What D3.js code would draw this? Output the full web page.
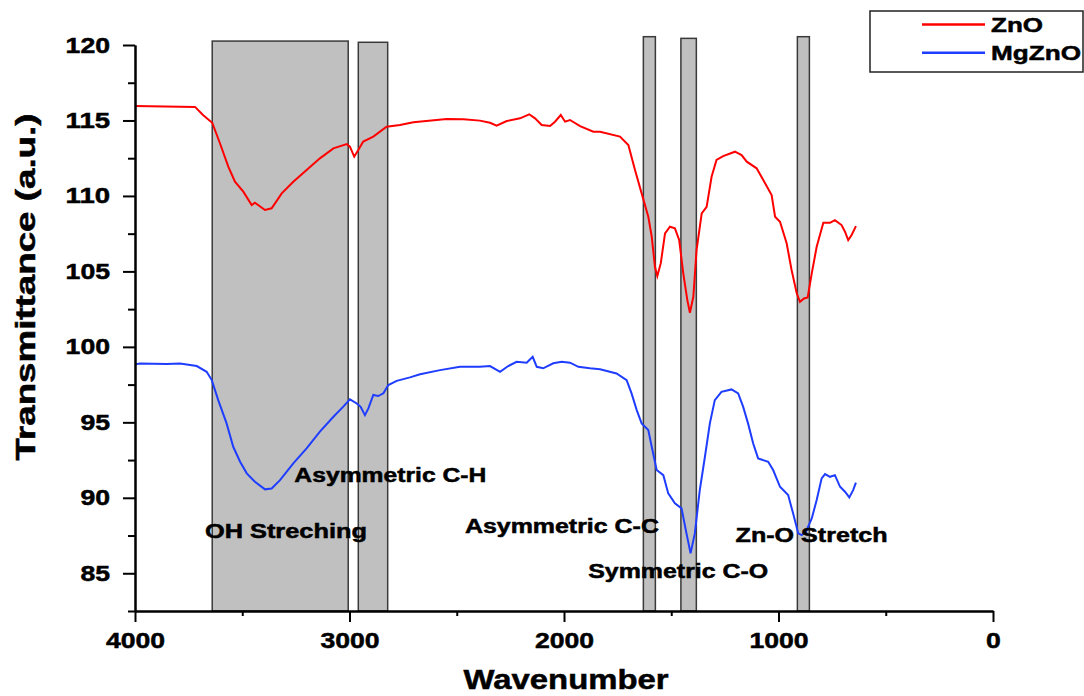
<!DOCTYPE html>
<html>
<head>
<meta charset="utf-8">
<script src="https://cdn.jsdelivr.net/npm/d3@7"></script>
<style>
  body { margin: 0; background: #fff; }
  text { font-family: "Liberation Sans", Arial, sans-serif; font-weight: bold; fill: #000; stroke: #000; stroke-width: 0.5px; }
</style>
</head>
<body>
<svg id="chart"></svg>
<script>
// ZnO spectrum (wavenumber, transmittance)
const znoWn = [4000,3720,3683,3640,3604,3565,3534,3495,3456,3441,3394,3363,3316,3262,3200,3138,3075,3013,2998,2978,2959,2936,2889,2827,2765,2702,2547,2469,2392,2345,2314,2267,2205,2162,2135,2104,2065,2042,2015,1995,1972,1925,1863,1832,1739,1700,1669,1638,1607,1591,1576,1565,1549,1529,1506,1483,1463,1444,1425,1413,1397,1382,1358,1335,1312,1289,1258,1203,1172,1148,1102,1071,1032,1016,993,962,939,915,900,881,864,845,822,791,760,737,706,690,675,659,639];
const znoT  = [115.96,115.9,115.36,114.85,113.49,111.94,110.94,110.28,109.4,109.55,109.07,109.18,110.17,110.94,111.72,112.49,113.15,113.44,113.26,112.6,113.04,113.6,113.93,114.59,114.7,114.88,115.1,115.08,114.99,114.85,114.66,114.96,115.14,115.41,115.14,114.7,114.63,114.92,115.36,114.92,115.03,114.63,114.25,114.25,113.93,113.37,111.72,110.17,108.62,107.3,105.31,104.69,105.53,107.52,107.96,107.85,107.08,104.87,103.1,102.26,103.32,106.41,108.85,109.28,111.27,112.38,112.64,112.93,112.71,112.27,111.83,111.05,110.06,108.62,108.29,106.86,105.09,103.55,102.99,103.21,103.28,104.87,106.63,108.22,108.22,108.4,108.07,107.63,107.08,107.41,108.0];

// MgZnO spectrum
const mgWn = [4000,3977,3852,3790,3712,3666,3642,3612,3573,3542,3510,3479,3441,3394,3363,3324,3262,3200,3138,3075,3029,2998,2966,2948,2928,2912,2889,2866,2842,2819,2780,2718,2671,2578,2485,2392,2345,2298,2260,2221,2174,2146,2127,2097,2050,2011,1972,1933,1879,1832,1755,1708,1685,1661,1638,1607,1591,1568,1537,1514,1483,1452,1429,1410,1390,1367,1343,1320,1297,1266,1219,1188,1165,1142,1118,1095,1048,1025,993,955,932,908,892,869,845,822,799,783,760,737,713,690,670,652,639];
const mgT  = [98.84,98.9,98.86,98.9,98.73,98.35,97.8,96.47,94.93,93.38,92.39,91.62,91.06,90.56,90.62,91.17,92.28,93.27,94.38,95.37,96.04,96.52,96.25,96.03,95.48,95.92,96.81,96.74,96.92,97.47,97.75,97.98,98.18,98.46,98.68,98.68,98.73,98.35,98.73,99.01,98.95,99.34,98.68,98.58,98.91,99.01,98.95,98.68,98.58,98.51,98.24,97.8,96.92,95.81,94.93,94.49,93.38,91.84,91.5,90.29,89.63,89.3,87.64,86.32,87.64,90.51,92.72,94.93,96.47,97.02,97.18,96.92,96.04,94.93,93.6,92.61,92.39,91.84,90.73,90.18,88.97,87.64,87.53,87.86,88.63,89.85,91.29,91.57,91.39,91.5,90.73,90.4,90.03,90.51,91.0];

// shaded bands (wavenumber range, top value)
const bandHigh = [3640, 2959, 1630, 1455, 912];
const bandLow  = [3006, 2822, 1574, 1383, 856];
const bandTop  = [120.26, 120.18, 120.55, 120.44, 120.55];

// band labels
const noteText = ["Asymmetric C-H", "OH Streching", "Asymmetric C-C", "Symmetric C-O", "Zn-O Stretch"];
const noteWn   = [3257, 3674, 2462, 1887, 1200];
const noteT    = [91.02, 87.34, 87.7, 84.7, 87.07];

const seriesNames = ["ZnO", "MgZnO"];
const xMajor = [4000, 3000, 2000, 1000, 0];
const xMinor = [3500, 2500, 1500, 500];
const yMajor = [85, 90, 95, 100, 105, 110, 115, 120];
const yMinor = [82.5, 87.5, 92.5, 97.5, 102.5, 107.5, 112.5, 117.5];

const width = 1084, height = 696;
const svg = d3.select('#chart').attr('width', width).attr('height', height);

const xscale = d3.scaleLinear().domain([4000, 0]).range([135, 993]);
const yscale = d3.scaleLinear().domain([82.5, 120]).range([611, 45]);

// stretch text horizontally, the original font is wide
function fit(sel, w) {
    sel.attr('textLength', w).attr('lengthAdjust', 'spacingAndGlyphs');
}

// bands
svg.append('g').selectAll('rect')
    .data(bandHigh)
    .join('rect')
    .attr('x', (d, i) => xscale(d))
    .attr('y', (d, i) => yscale(bandTop[i]))
    .attr('width', (d, i) => xscale(bandLow[i]) - xscale(d))
    .attr('height', (d, i) => yscale(82.5) - yscale(bandTop[i]))
    .attr('fill', '#c0c0c0')
    .attr('stroke', '#3a3a3a')
    .attr('stroke-width', 1.5);

// spectra
const line = d3.line().x(d => xscale(d[0])).y(d => yscale(d[1]));
const znoData = znoWn.map((w, i) => [w, znoT[i]]);
const mgData = mgWn.map((w, i) => [w, mgT[i]]);

svg.append('path').datum(znoData)
    .attr('d', line).attr('fill', 'none')
    .attr('stroke', '#ff0000').attr('stroke-width', 2);
svg.append('path').datum(mgData)
    .attr('d', line).attr('fill', 'none')
    .attr('stroke', '#1f3dff').attr('stroke-width', 2);

// annotations
const noteWidth = [192, 162, 194, 180, 152];
svg.append('g').selectAll('text')
    .data(noteText)
    .join('text')
    .attr('x', (d, i) => xscale(noteWn[i]))
    .attr('y', (d, i) => yscale(noteT[i]))
    .style('font-size', '20px')
    .text(d => d)
    .each(function (d, i) { fit(d3.select(this), noteWidth[i]); });

// axes
const xaxis_group = svg.append('g').attr('transform', `translate(0, 611)`);
xaxis_group.call(d3.axisBottom(xscale).tickValues(xMajor).tickFormat(d => d)
    .tickSize(11).tickSizeOuter(0).tickPadding(10));
svg.append('g').attr('transform', `translate(0, 611)`)
    .call(d3.axisBottom(xscale).tickValues(xMinor).tickFormat('').tickSize(5).tickSizeOuter(0));

const yaxis_group = svg.append('g').attr('transform', `translate(135, 0)`);
yaxis_group.call(d3.axisLeft(yscale).tickValues(yMajor).tickFormat(d => d)
    .tickSize(12).tickSizeOuter(0).tickPadding(13));
svg.append('g').attr('transform', `translate(135, 0)`)
    .call(d3.axisLeft(yscale).tickValues(yMinor).tickFormat('').tickSize(7).tickSizeOuter(0));

svg.selectAll('.domain, .tick line').attr('stroke', '#000').attr('stroke-width', 2);
svg.selectAll('.tick text')
    .style('font-size', '22px')
    .style('font-family', '"Liberation Sans", Arial, sans-serif')
    .style('font-weight', 'bold')
    .attr('fill', '#000')
    .each(function (d) {
        const n = String(d).length;
        fit(d3.select(this), n * 14.8);
    });

// axis titles
svg.append('text')
    .attr('x', 566).attr('y', 689)
    .attr('text-anchor', 'middle')
    .style('font-size', '28px')
    .text('Wavenumber')
    .call(fit, 205);

svg.append('text')
    .attr('transform', 'rotate(-90)')
    .attr('x', -287).attr('y', 35)
    .attr('text-anchor', 'middle')
    .style('font-size', '28px')
    .text('Transmittance (a.u.)')
    .call(fit, 347);

// legend
const colors = ['#ff0000', '#1f3dff'];
const legend = svg.append('g');
legend.append('rect')
    .attr('x', 870).attr('y', 11).attr('width', 213).attr('height', 61)
    .attr('fill', '#fff').attr('stroke', '#222').attr('stroke-width', 1.5);
const legendWidth = [52, 90];
seriesNames.forEach((name, i) => {
    const ly = 24.5 + i * 28.3;
    legend.append('line')
        .attr('x1', 922).attr('x2', 985).attr('y1', ly).attr('y2', ly)
        .attr('stroke', colors[i]).attr('stroke-width', 2.5);
    legend.append('text')
        .attr('x', 991).attr('y', ly + 7)
        .style('font-size', '21px')
        .text(name)
        .call(fit, legendWidth[i]);
});
</script>
</body>
</html>
